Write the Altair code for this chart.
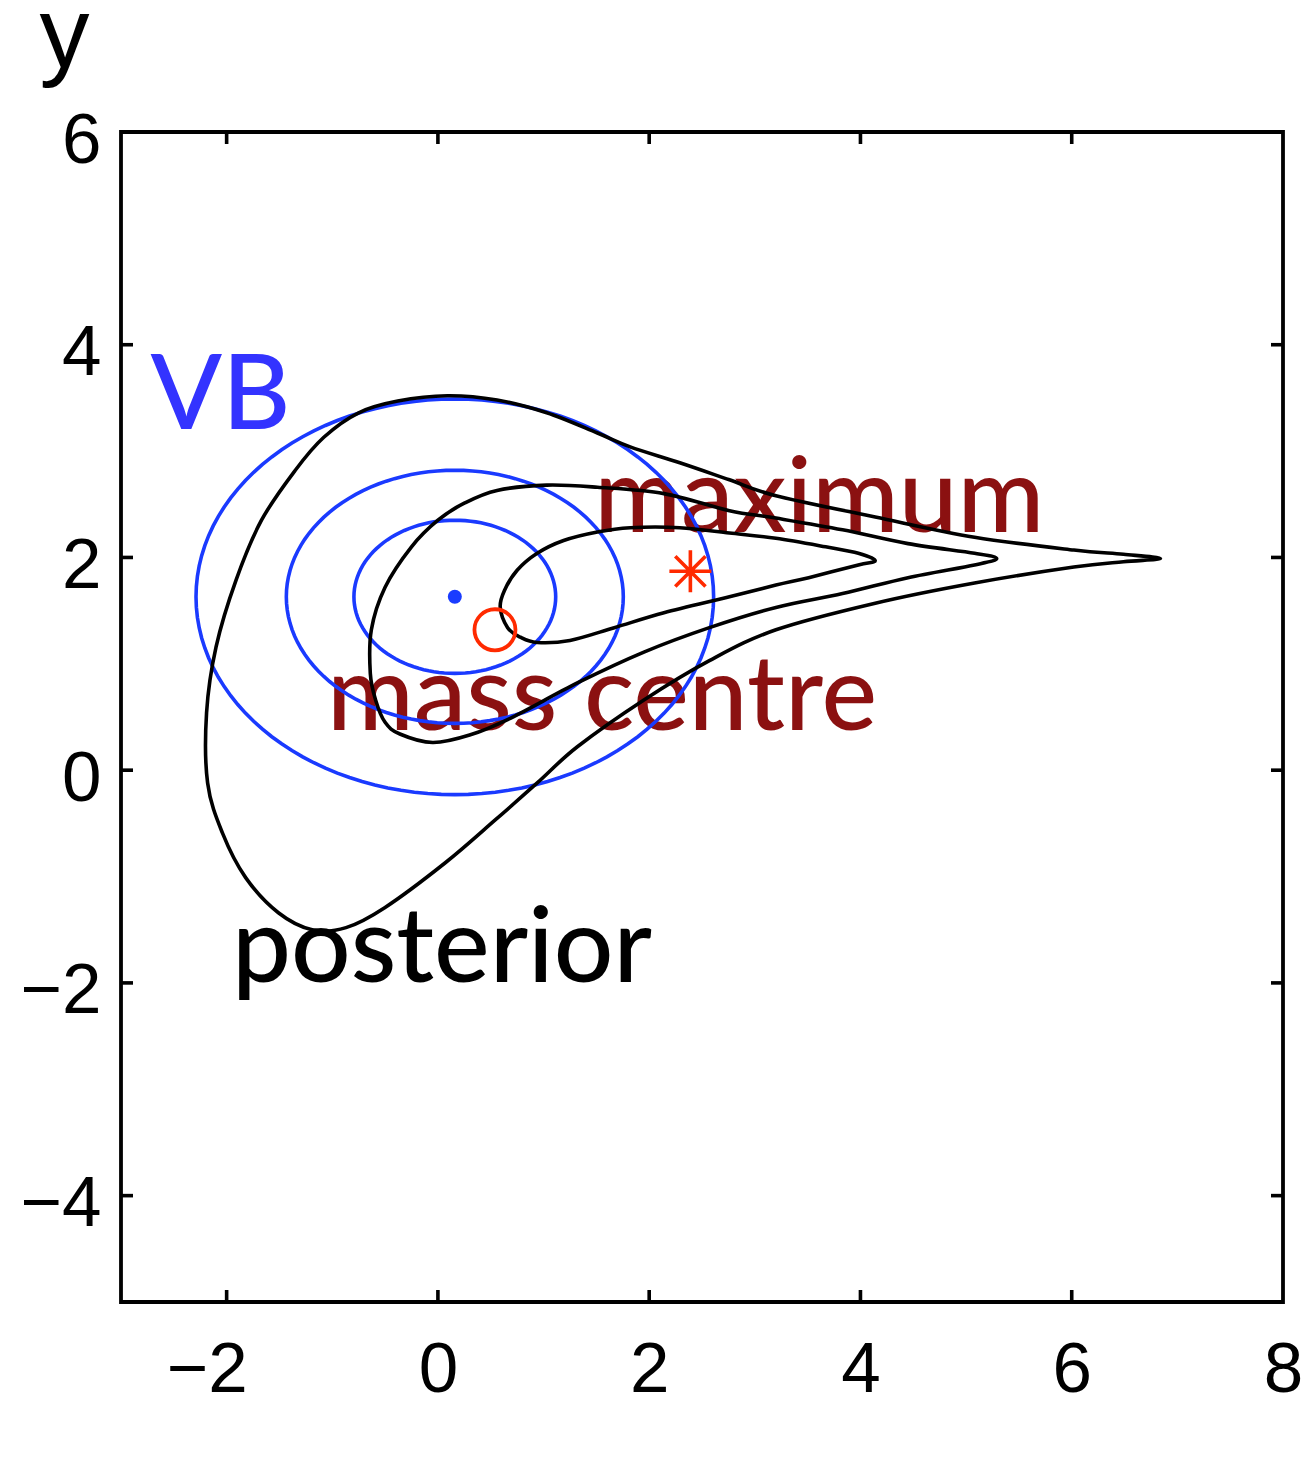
import altair as alt
import numpy as np
import pandas as pd

# ---------------- data ----------------
x_domain = [-3, 8]
y_domain = [-5, 6]
x_ticks = [-2, 0, 2, 4, 6, 8]
y_ticks = [-4, -2, 0, 2, 4, 6]

# posterior contours (black), traced clockwise
outer_x = [0.09, 0.56, 1.03, 1.51, 1.82, 2.29, 2.76, 3.20, 4.14, 5.08, 6.02, 6.49, 6.84,
           6.49, 6.02, 5.08, 4.14, 3.20, 2.57, 1.95, 1.32, 0.94, 0.54, 0.07, -0.50, -0.87,
           -1.19, -1.51, -1.82, -2.04, -2.18, -2.19, -2.10, -1.91, -1.67, -1.35, -1.08,
           -0.75, -0.38]
outer_y = [3.52, 3.48, 3.36, 3.17, 3.04, 2.89, 2.73, 2.58, 2.38, 2.19, 2.07, 2.03, 1.99,
           1.96, 1.91, 1.76, 1.57, 1.32, 1.03, 0.66, 0.22, -0.12, -0.47, -0.87, -1.29, -1.48,
           -1.50, -1.34, -1.01, -0.59, -0.12, 0.54, 1.16, 1.79, 2.35, 2.82, 3.13,
           3.36, 3.47]

middle_x = [1.03, 1.51, 2.14, 2.76, 3.20, 3.83, 4.45, 5.08, 5.29, 5.08, 4.45, 3.83, 3.20,
            2.57, 1.95, 1.32, 0.69, 0.30, -0.05, -0.36, -0.50, -0.59, -0.64, -0.63, -0.50,
            -0.25, 0.00, 0.25, 0.56]
middle_y = [2.68, 2.66, 2.60, 2.44, 2.37, 2.26, 2.13, 2.04, 1.99, 1.93, 1.81, 1.66, 1.53,
            1.34, 1.11, 0.82, 0.49, 0.33, 0.26, 0.34, 0.45, 0.66, 0.91, 1.32, 1.72,
            2.10, 2.35, 2.51, 2.63]

inner_x = [1.51, 1.82, 2.29, 2.76, 3.20, 3.67, 3.98, 4.14, 3.98, 3.51, 3.20, 2.76, 2.14,
           1.67, 1.25, 0.94, 0.78, 0.66, 0.59, 0.63, 0.75, 0.94, 1.19]
inner_y = [2.24, 2.28, 2.28, 2.23, 2.18, 2.10, 2.04, 1.97, 1.93, 1.81, 1.74, 1.63, 1.48,
           1.34, 1.22, 1.20, 1.25, 1.34, 1.53, 1.69, 1.88, 2.04, 2.16]

# VB approximation (blue): axis-aligned Gaussian contours
vb_centre = [0.16, 1.63]
vb_semi_x = [0.955, 1.595, 2.45]
vb_semi_y = [0.72, 1.19, 1.86]

# point markers
mass_centre = [0.54, 1.32]
maximum = [2.39, 1.87]

# text labels
label_text = ["VB", "maximum", "mass centre", "posterior"]
label_x = [-2.72, 1.48, -1.05, -1.95]
label_y = [3.21, 2.24, 0.38, -1.99]
label_color = ["#3333ff", "#8b1111", "#8b1111", "#000000"]

# ---------------- build tables ----------------
W, H = 1162, 1170

post_df = pd.concat([
    pd.DataFrame({"x": xs, "y": ys, "i": range(len(xs)), "level": name})
    for name, xs, ys in [("outer", outer_x, outer_y), ("middle", middle_x, middle_y),
                         ("inner", inner_x, inner_y)]
])

t = np.linspace(0, 2 * np.pi, 120, endpoint=False)
vb_df = pd.concat([
    pd.DataFrame({"x": vb_centre[0] + a * np.cos(t), "y": vb_centre[1] + b * np.sin(t),
                  "i": range(len(t)), "level": k})
    for k, (a, b) in enumerate(zip(vb_semi_x, vb_semi_y))
])

text_df = pd.DataFrame({"x": label_x, "y": label_y, "label": label_text, "c": label_color})
dot_df = pd.DataFrame({"x": [vb_centre[0]], "y": [vb_centre[1]]})
mc_df = pd.DataFrame({"x": [mass_centre[0]], "y": [mass_centre[1]]})
max_df = pd.DataFrame({"x": [maximum[0]], "y": [maximum[1]]})
xt_df = pd.DataFrame({"x": x_ticks[:-1]})
yt_df = pd.DataFrame({"y": y_ticks[:-1]})

# ---------------- scales / axes ----------------
x_axis = alt.Axis(values=x_ticks, ticks=False, tickSize=0, domain=False, grid=False,
                  labelFont="Liberation Sans", labelFontSize=71, labelColor="black",
                  labelPadding=33, labelFlush=False, labelOverlap=False,
                  labelBaseline="top",
                  labelOffset={"condition": {"test": "datum.value < 0", "value": -20}, "value": 0},
                  title=None)
y_axis = alt.Axis(values=y_ticks, ticks=False, tickSize=0, domain=False, grid=False,
                  labelFont="Liberation Sans", labelFontSize=71, labelColor="black",
                  labelPadding=20, labelFlush=False, labelOverlap=False,
                  labelBaseline="middle", labelOffset=9,
                  title="y", titleAngle=0, titleAlign="left", titleBaseline="alphabetic",
                  titleX=-82, titleY=-66, titleFont="Liberation Sans", titleFontSize=100,
                  titleFontWeight="normal", titleColor="black")

X = alt.X("x:Q", scale=alt.Scale(domain=x_domain, nice=False, zero=False), axis=x_axis)
Y = alt.Y("y:Q", scale=alt.Scale(domain=y_domain, nice=False, zero=False), axis=y_axis)

texts = alt.Chart(text_df).mark_text(
    font="Lato", fontSize=105, fontWeight=500, align="left", baseline="alphabetic"
).encode(x=X, y=Y, text="label:N", color=alt.Color("c:N", scale=None))

vb = alt.Chart(vb_df).mark_line(
    interpolate="linear-closed", color="#1a3aff", strokeWidth=3.6
).encode(x=X, y=Y, detail="level:N", order="i:Q")

post = alt.Chart(post_df).mark_line(
    interpolate="cardinal-closed", color="black", strokeWidth=3.6
).encode(x=X, y=Y, detail="level:N", order="i:Q")

dot = alt.Chart(dot_df).mark_point(
    shape="circle", filled=True, size=196, color="#1a3cff", opacity=1
).encode(x=X, y=Y)

mc = alt.Chart(mc_df).mark_point(
    shape="circle", filled=False, size=1681, color="#ff2a00", strokeWidth=3.8, opacity=1
).encode(x=X, y=Y)

star_path = "M-1,0L1,0M0,-1L0,1M-0.72,-0.72L0.72,0.72M-0.72,0.72L0.72,-0.72"
mx = alt.Chart(max_df).mark_point(
    shape=star_path, filled=False, size=1764, color="#ff2a00", strokeWidth=3.6, opacity=1
).encode(x=X, y=Y)

tick_style = dict(color="black", strokeWidth=3.6)
t_bottom = alt.Chart(xt_df).mark_rule(**tick_style).encode(
    x=X, y=alt.value(H), y2=alt.value(H - 12))
t_top = alt.Chart(xt_df).mark_rule(**tick_style).encode(
    x=X, y=alt.value(0), y2=alt.value(12))
t_left = alt.Chart(yt_df).mark_rule(**tick_style).encode(
    y=Y, x=alt.value(0), x2=alt.value(12))
t_right = alt.Chart(yt_df).mark_rule(**tick_style).encode(
    y=Y, x=alt.value(W), x2=alt.value(W - 12))

chart = alt.layer(
    texts, vb, post, dot, mc, mx, t_bottom, t_top, t_left, t_right
).properties(
    width=W, height=H,
    autosize=alt.AutoSizeParams(type="none"),
    padding={"left": 113, "top": 124, "right": 21, "bottom": 150},
    background="white",
).configure_view(stroke="black", strokeWidth=3.8)

chart.save("out.html", embed_options={"renderer": "svg", "actions": False})
